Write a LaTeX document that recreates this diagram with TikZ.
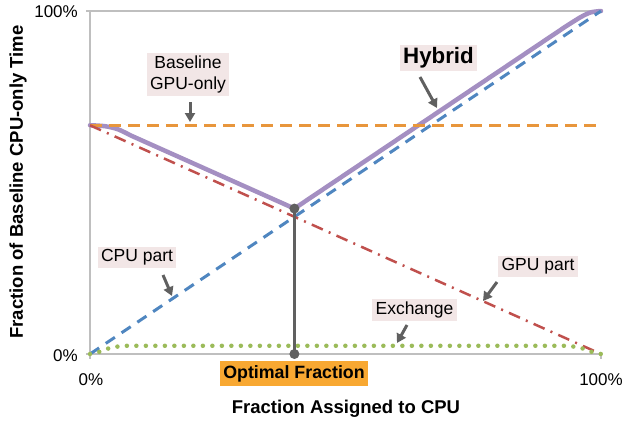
\documentclass[tikz,border=0pt]{standalone}
\usepackage{fontspec}
\setmainfont{Liberation Sans}
\usetikzlibrary{arrows.meta}
\definecolor{cOrange}{HTML}{E8963C}
\definecolor{cBlue}{HTML}{4F86C0}
\definecolor{cRed}{HTML}{C0504D}
\definecolor{cGreen}{HTML}{9BBB59}
\definecolor{cPurple}{HTML}{A48FC2}
\definecolor{cLabel}{HTML}{F2E6E6}
\definecolor{cOpt}{HTML}{F8A832}
\definecolor{cGray}{HTML}{606060}
\definecolor{cAxis}{HTML}{BFBFBF}
\begin{document}
\begin{tikzpicture}[x=1pt,y=-1pt,
  lab/.style={fill=cLabel,inner xsep=3.5pt,inner ysep=3pt,font=\fontsize{17.5}{21}\selectfont,align=center},
  tick/.style={font=\fontsize{17}{20}\selectfont,inner sep=0pt},
  axtitle/.style={font=\fontsize{18.5}{22}\selectfont\bfseries,inner sep=0pt},
  pointer/.style={draw=cGray,line width=3pt,-{Triangle[width=10pt,length=9pt]}},
  axisline/.style={draw=cAxis,line width=1.2pt},
  hyb/.style={draw=cPurple,line width=4.5pt,line join=round,line cap=round},
  gpuonly/.style={draw=cOrange,line width=3.5pt,dash pattern=on 12pt off 7pt},
  cpupart/.style={draw=cBlue,line width=3pt,dash pattern=on 11pt off 8pt},
  gpupart/.style={draw=cRed,line width=2.5pt,dash pattern=on 12pt off 6.5pt on 2pt off 6.5pt},
  exch/.style={draw=cGreen,line width=4.5pt,dash pattern=on 0pt off 9.5pt,line cap=round},
  optdot/.style={circle,fill=cGray,inner sep=0pt,minimum size=10pt}]
\useasboundingbox (0,0) rectangle (622,421);
% axes
\draw[axisline] (86,11) -- (601,11);
\draw[axisline] (86,354) -- (601,354);
\draw[axisline] (90,11) -- (90,359);
\draw[axisline] (601,354) -- (601,359);
% tick labels
\node[tick,anchor=east] (y100) at (78,12) {100\%};
\node[tick,anchor=east] (y0) at (78,356) {0\%};
\node[tick] (x0) at (91,380) {0\%};
\node[tick] (x100) at (601,380) {100\%};
% axis titles
\node[axtitle] (xt) at (346,409) {Fraction Assigned to CPU};
\node[axtitle,rotate=90] (yt) at (18,182) {Fraction of Baseline CPU-only Time};
% curves in data coordinates
\begin{scope}[shift={(90pt,-354pt)},x=511pt,y=343pt]
  \draw[hyb] plot[smooth] coordinates {(0,0.667) (0.03,0.664) (0.055,0.655) (0.08,0.637)}
    -- (0.4,0.424) -- (0.93,0.954)
    -- plot[smooth] coordinates {(0.93,0.954) (0.96,0.982) (0.98,0.996) (1,1)};
  \draw[gpuonly] (0,0.6667) -- (1,0.6667);
  \draw[cpupart] (0,0) -- (1,1);
  \draw[gpupart] (0,0.6667) -- (1,0);
  \draw[exch] plot[smooth] coordinates {(0,0) (0.02,0.007) (0.04,0.018) (0.065,0.024)}
    -- (0.935,0.024)
    -- plot[smooth] coordinates {(0.935,0.024) (0.96,0.018) (0.98,0.007) (1,0)};
  \coordinate (optTop) at (0.4,0.424);
  \coordinate (optBot) at (0.4,0);
\end{scope}
% optimal fraction marker
\draw[cGray,line width=3pt] (optTop) -- (optBot);
\node[optdot] (dTop) at (optTop) {};
\node[optdot] (dBot) at (optBot) {};
\node[fill=cOpt,font=\fontsize{17.8}{21}\selectfont\bfseries,inner xsep=3.5pt,inner ysep=4pt] (opt) at (294,373.5) {Optimal Fraction};
% labels
\node[lab] (lBase) at (188,74.5) {Baseline\\GPU-only};
\node[lab,font=\fontsize{22.3}{26}\selectfont\bfseries,inner ysep=3pt] (lHyb) at (438.5,58) {Hybrid};
\node[lab] (lCpu) at (137,257.5) {CPU part};
\node[lab] (lGpu) at (538,266.5) {GPU part};
\node[lab] (lEx) at (414.5,310) {Exchange};
% pointer ends
\coordinate (aBaseS) at (190,102);
\coordinate (aBaseE) at (190,122);
\coordinate (aHybS) at (420,77);
\coordinate (aHybE) at (437,108);
\coordinate (aCpuS) at (163,275);
\coordinate (aCpuE) at (172,296);
\coordinate (aGpuS) at (497,282);
\coordinate (aGpuE) at (483,301);
\coordinate (aExS) at (407,325);
\coordinate (aExE) at (397,343);
\draw[pointer] (aBaseS) -- (aBaseE);
\draw[pointer] (aHybS) -- (aHybE);
\draw[pointer] (aCpuS) -- (aCpuE);
\draw[pointer] (aGpuS) -- (aGpuE);
\draw[pointer] (aExS) -- (aExE);
\end{tikzpicture}
\end{document}
